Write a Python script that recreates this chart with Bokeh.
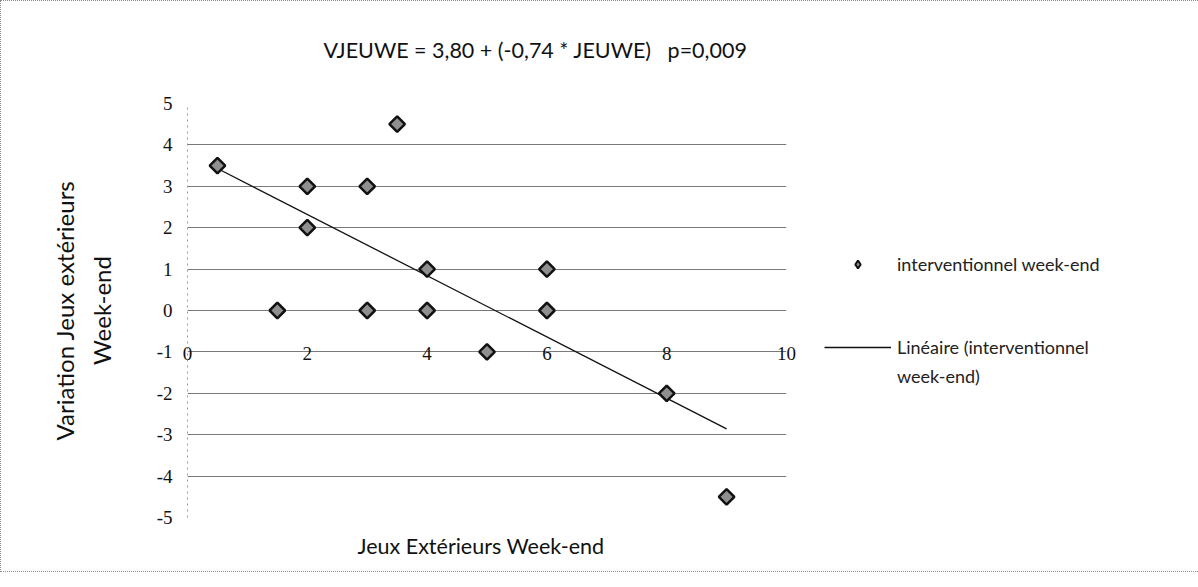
import math
from bokeh.plotting import figure
from bokeh.models import (FixedTicker, Legend, LegendItem, Title, ColumnDataSource)
from bokeh.embed import file_html
from bokeh.resources import INLINE

# ---- data ----
jeux_we = [0.5, 2, 2, 3, 3.5, 4, 4, 1.5, 3, 5, 6, 6, 8, 9]
var_we = [3.5, 3, 2, 3, 4.5, 1, 0, 0, 0, -1, 1, 0, -2, -4.5]
intercept = 3.80
slope = -0.74
x_ticks = [0, 2, 4, 6, 8, 10]
y_ticks = [-5, -4, -3, -2, -1, 0, 1, 2, 3, 4, 5]
title_text = "VJEUWE = 3,80 + (-0,74 * JEUWE)\u00a0\u00a0\u00a0p=0,009"
x_title = "Jeux Extérieurs Week-end"
y_title = "Variation Jeux extérieurs\nWeek-end"
series_name = "interventionnel week-end"
trend_name_1 = "Linéaire (interventionnel"
trend_name_2 = "week-end)"

SANS = "Lato"
SERIF = "Liberation Serif"
NAN = float("nan")

p = figure(frame_width=599, frame_height=414, x_range=(0, 10), y_range=(-5, 5),
           output_backend="svg", toolbar_location=None,
           min_border_left=186, min_border_right=395,
           min_border_top=102, min_border_bottom=53)
p.outline_line_color = None
p.background_fill_color = "white"
p.border_fill_color = "white"
p.styles = {"border": "1px dotted #8a8a8a"}

# spacer between frame and title (keeps the title high without growing the panel)
spacer = Title(text="\u00a0", text_font_size="30px", standoff=0)
p.add_layout(spacer, "above")
# title
t = Title(text=title_text, align="left", offset=136,
          text_font=SANS, text_font_size="21.5px", text_font_style="normal",
          text_color="#111111", standoff=12)
p.add_layout(t, "above")

# x axis title as a below title
xt = Title(text=x_title, align="left", offset=170,
           text_font=SANS, text_font_size="21.5px", text_font_style="normal",
           text_color="#111111", standoff=26)
p.add_layout(xt, "below")

# axes
p.xaxis.ticker = FixedTicker(ticks=x_ticks)
p.xaxis.axis_line_color = None
p.xaxis.major_tick_line_color = None
p.xaxis.minor_tick_line_color = None
p.xaxis.major_label_text_font = SERIF
p.xaxis.major_label_text_font_size = "19px"
p.xaxis.major_label_text_color = "#111111"
p.xaxis.major_label_overrides = {v: str(v) for v in x_ticks}
p.xaxis.major_label_standoff = -177

p.yaxis.ticker = FixedTicker(ticks=y_ticks)
p.yaxis.axis_line_color = "#9a9a9a"
p.yaxis.axis_line_dash = "dotted"
p.yaxis.major_tick_line_color = None
p.yaxis.minor_tick_line_color = None
p.yaxis.major_label_text_font = SERIF
p.yaxis.major_label_text_font_size = "19px"
p.yaxis.major_label_text_color = "#111111"
p.yaxis.major_label_overrides = {v: str(v) for v in y_ticks}
p.yaxis.major_label_standoff = 9
p.yaxis.axis_label = y_title
p.yaxis.axis_label_text_font = SANS
p.yaxis.axis_label_text_font_size = "24px"
p.yaxis.axis_label_text_font_style = "normal"
p.yaxis.axis_label_text_color = "#111111"
p.yaxis.axis_label_text_line_height = 1.25
p.yaxis.axis_label_standoff = 38

p.xgrid.visible = False
p.ygrid.ticker = FixedTicker(ticks=y_ticks)
p.ygrid.grid_line_color = "#7a7a7a"
p.ygrid.grid_line_width = 1

# trend line
x0, x1 = min(jeux_we), max(jeux_we)
trend = p.line([x0, x1], [intercept + slope * x0, intercept + slope * x1],
               line_color="#111111", line_width=1.3)

# points
src = ColumnDataSource(dict(x=jeux_we, y=var_we))
pts = p.scatter("x", "y", source=src, marker="square", size=11,
                angle=math.pi / 4,
                fill_color="#8f8f8f", line_color="#111111", line_width=2.5)
# legend swatch for the points (diamond, not drawn on the plot)
swatch = p.scatter([NAN], [NAN], marker="diamond", size=14,
                   fill_color="#8f8f8f", line_color="#111111", line_width=2)
# invisible renderer for spacer / continuation rows of the legend
blank = p.line([NAN, NAN], [NAN, NAN], line_alpha=0)

legend = Legend(items=[LegendItem(label=series_name, renderers=[swatch]),
                       LegendItem(label=" ", renderers=[blank]),
                       LegendItem(label=" ", renderers=[blank]),
                       LegendItem(label=trend_name_1, renderers=[trend]),
                       LegendItem(label=trend_name_2, renderers=[blank])],
                location=(38, 130), orientation="vertical",
                label_text_font=SANS, label_text_font_size="18px",
                label_text_color="#222222",
                glyph_width=67, glyph_height=20, label_height=20,
                label_standoff=6, spacing=7, padding=0, margin=0,
                border_line_color=None, background_fill_alpha=0)
p.add_layout(legend, "right")

open("out.html", "w").write(file_html(p, INLINE))
